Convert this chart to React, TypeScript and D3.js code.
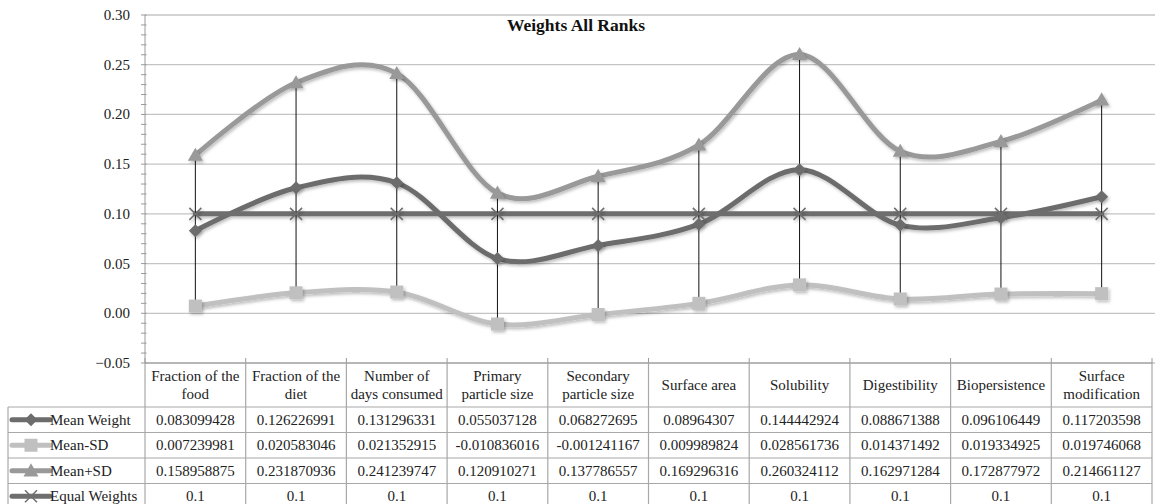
import React from "react";
import * as d3 from "d3";

const categories = [
  "Fraction of the food",
  "Fraction of the diet",
  "Number of days consumed",
  "Primary particle size",
  "Secondary particle size",
  "Surface area",
  "Solubility",
  "Digestibility",
  "Biopersistence",
  "Surface modification",
];
const categoryLines = [
  ["Fraction of the", "food"],
  ["Fraction of the", "diet"],
  ["Number of", "days consumed"],
  ["Primary", "particle size"],
  ["Secondary", "particle size"],
  ["Surface area"],
  ["Solubility"],
  ["Digestibility"],
  ["Biopersistence"],
  ["Surface", "modification"],
];
const meanWeight = [0.083099428, 0.126226991, 0.131296331, 0.055037128, 0.068272695, 0.08964307, 0.144442924, 0.088671388, 0.096106449, 0.117203598];
const meanMinusSD = [0.007239981, 0.020583046, 0.021352915, -0.010836016, -0.001241167, 0.009989824, 0.028561736, 0.014371492, 0.019334925, 0.019746068];
const meanPlusSD = [0.158958875, 0.231870936, 0.241239747, 0.120910271, 0.137786557, 0.169296316, 0.260324112, 0.162971284, 0.172877972, 0.214661127];
const equalWeights = [0.1, 0.1, 0.1, 0.1, 0.1, 0.1, 0.1, 0.1, 0.1, 0.1];
const meanWeightLabels = ["0.083099428", "0.126226991", "0.131296331", "0.055037128", "0.068272695", "0.08964307", "0.144442924", "0.088671388", "0.096106449", "0.117203598"];
const meanMinusSDLabels = ["0.007239981", "0.020583046", "0.021352915", "-0.010836016", "-0.001241167", "0.009989824", "0.028561736", "0.014371492", "0.019334925", "0.019746068"];
const meanPlusSDLabels = ["0.158958875", "0.231870936", "0.241239747", "0.120910271", "0.137786557", "0.169296316", "0.260324112", "0.162971284", "0.172877972", "0.214661127"];
const equalWeightsLabels = ["0.1", "0.1", "0.1", "0.1", "0.1", "0.1", "0.1", "0.1", "0.1", "0.1"];
const yTicks = [-0.05, 0, 0.05, 0.1, 0.15, 0.2, 0.25, 0.3];
const title = "Weights All Ranks";

type Series = { name: string; values: number[]; labels: string[]; color: string; marker: string };
const series: Series[] = [
  { name: "Mean Weight", values: meanWeight, labels: meanWeightLabels, color: "#6c6c6c", marker: "diamond" },
  { name: "Mean-SD", values: meanMinusSD, labels: meanMinusSDLabels, color: "#c0c0c0", marker: "square" },
  { name: "Mean+SD", values: meanPlusSD, labels: meanPlusSDLabels, color: "#999999", marker: "triangle" },
  { name: "Equal Weights", values: equalWeights, labels: equalWeightsLabels, color: "#6e6e6e", marker: "x" },
];

const W = 1155, H = 504;
const left = 145, right = 1152, top = 15, bottom = 363;
const headerBottom = 407;
const rowH = 25.5;
const legendLeft = 8;
const FONT = "Liberation Serif, DejaVu Serif, Times New Roman, serif";
const FS = 15;

function Marker({ type, x, y, color }: { type: string; x: number; y: number; color: string }) {
  if (type === "diamond") {
    const s = 6.5;
    return <path d={`M${x},${y - s}L${x + s},${y}L${x},${y + s}L${x - s},${y}Z`} fill={color} />;
  }
  if (type === "square") {
    const s = 6.5;
    return <rect x={x - s} y={y - s} width={2 * s} height={2 * s} fill={color} />;
  }
  if (type === "triangle") {
    const s = 7.5;
    return <path d={`M${x},${y - s}L${x + s},${y + s * 0.75}L${x - s},${y + s * 0.75}Z`} fill={color} />;
  }
  const s = 6;
  return (
    <path d={`M${x - s},${y - s}L${x + s},${y + s}M${x - s},${y + s}L${x + s},${y - s}`} stroke={color} strokeWidth={1.5} fill="none" />
  );
}

export default function App() {
  const x = d3.scaleBand<string>().domain(categories).range([left, right]);
  const y = d3.scaleLinear().domain([-0.05, 0.3]).range([bottom, top]);
  const cx = (i: number) => (x(categories[i]) as number) + x.bandwidth() / 2;
  const line = d3
    .line<number>()
    .x((_, i) => cx(i))
    .y((d) => y(d))
    .curve(d3.curveCatmullRom.alpha(0));
  const minorTicks = d3.range(-5, 31).map((v) => v / 100);
  const colEdges = categories.map((c) => x(c) as number).concat([right]);
  const tableBottom = headerBottom + rowH * series.length;

  return (
    <svg width={W} height={H} style={{ display: "block", position: "absolute", left: 0, top: 0, fontFamily: FONT }}>
      <defs>
        <filter id="sh" x="-10%" y="-10%" width="120%" height="130%">
          <feDropShadow dx="1.5" dy="2" stdDeviation="1.5" floodColor="#000" floodOpacity="0.25" />
        </filter>
      </defs>
      <rect width={W} height={H} fill="#fff" />
      {yTicks.map((t) => (
        <line key={t} x1={left} x2={W} y1={y(t)} y2={y(t)} stroke="#c4c4c4" strokeWidth={1.3} />
      ))}
      <line x1={left} x2={left} y1={top} y2={bottom} stroke="#9a9a9a" strokeWidth={1} />
      {minorTicks.map((t) => (
        <line key={"m" + t} x1={left - 4} x2={left + 1.5} y1={y(t)} y2={y(t)} stroke="#9a9a9a" strokeWidth={1} />
      ))}
      {yTicks.map((t) => (
        <text key={"l" + t} x={left - 15} y={y(t) + 5} textAnchor="end" fontSize={FS} fill="#222">
          {d3.format(".2f")(t)}
        </text>
      ))}
      <line x1={left} x2={right} y1={bottom} y2={bottom} stroke="#9a9a9a" strokeWidth={1} />
      {colEdges.map((e, i) => (
        <line key={"ct" + i} x1={e} x2={e} y1={bottom - 5} y2={bottom} stroke="#9a9a9a" strokeWidth={1} />
      ))}
      <text x={576} y={31} textAnchor="middle" fontSize={17.5} fontWeight="bold" fill="#111">
        {title}
      </text>
      <g filter="url(#sh)">
        {series.map((s) => (
          <path key={s.name} d={line(s.values) as string} fill="none" stroke={s.color} strokeWidth={5} strokeLinecap="round" />
        ))}
      </g>
      {categories.map((c, i) => (
        <line key={"e" + c} x1={cx(i)} x2={cx(i)} y1={y(meanPlusSD[i])} y2={y(meanMinusSD[i])} stroke="#111" strokeWidth={1} />
      ))}
      <g filter="url(#sh)">
        {series.map((s) =>
          s.values.map((v, i) => <Marker key={s.name + i} type={s.marker} x={cx(i)} y={y(v)} color={s.color} />)
        )}
      </g>
      <g stroke="#a8a8a8" strokeWidth={1.2}>
        {colEdges.map((e, i) => (
          <line key={"tv" + i} x1={e} x2={e} y1={bottom} y2={tableBottom} />
        ))}
        <line x1={legendLeft} x2={legendLeft} y1={headerBottom} y2={tableBottom} />
        <line x1={legendLeft} x2={right} y1={headerBottom} y2={headerBottom} />
        {series.map((s, r) => (
          <line key={"th" + r} x1={legendLeft} x2={right} y1={headerBottom + rowH * (r + 1)} y2={headerBottom + rowH * (r + 1)} />
        ))}
      </g>
      {categoryLines.map((ls, i) => {
        const mx = cx(i);
        const midY = (bottom + headerBottom) / 2;
        const lh = 18;
        const y0 = midY - ((ls.length - 1) * lh) / 2 + 5;
        return (
          <text key={"h" + i} textAnchor="middle" fontSize={FS} fill="#222">
            {ls.map((l, k) => (
              <tspan key={k} x={mx} y={y0 + k * lh}>
                {l}
              </tspan>
            ))}
          </text>
        );
      })}
      {series.map((s, r) => {
        const ry = headerBottom + rowH * r + rowH / 2;
        return (
          <g key={"row" + s.name}>
            <line x1={12} x2={50} y1={ry} y2={ry} stroke={s.color} strokeWidth={5} strokeLinecap="round" />
            <Marker type={s.marker} x={31} y={ry} color={s.color} />
            <text x={50} y={ry + 5} fontSize={FS} fill="#222">
              {s.name}
            </text>
            {s.labels.map((lab, i) => (
              <text key={i} x={cx(i)} y={ry + 5} textAnchor="middle" fontSize={FS} fill="#222">
                {lab}
              </text>
            ))}
          </g>
        );
      })}
    </svg>
  );
}
